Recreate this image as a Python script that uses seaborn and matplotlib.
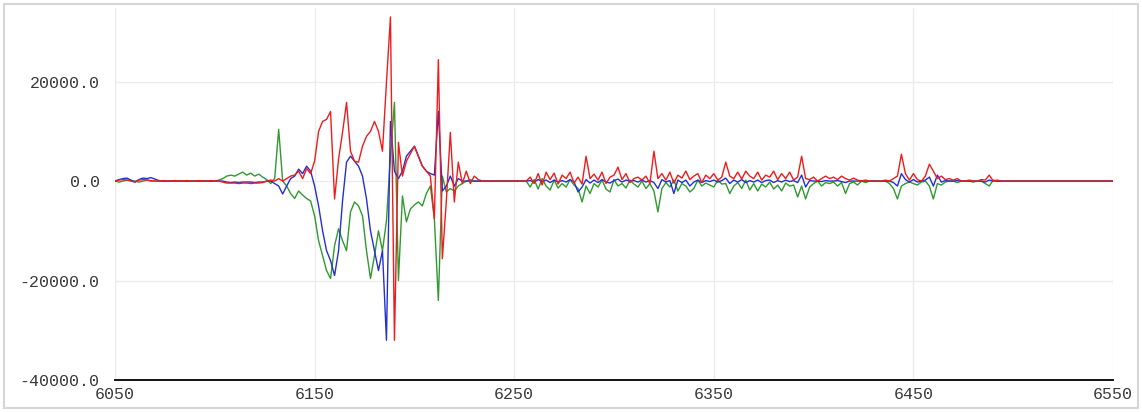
import numpy as np
import pandas as pd
import matplotlib
matplotlib.use("Agg")
import matplotlib.pyplot as plt
from matplotlib.patches import Rectangle
import seaborn as sns

# sample positions (every 2 samples from 6050 to 6550)
x_pos = np.arange(6050, 6551, 2)

# channel readings, in thousands
red_k = [
    0, 0.2, 0.3, 0.2, 0, -0.2, 0.2, 0.3, 0.2, 0.1,
    0, 0, 0.1, 0, 0, 0.1, 0, 0, 0.1, 0,
    0, 0.1, 0, 0, 0.1, 0, 0, -0.2, -0.4, -0.4,
    -0.4, -0.5, -0.4, -0.4, -0.5, -0.4, -0.4, -0.3, 0, 0.2,
    0, 0.5, 0, 0.5, 1, 1.2, 2, 0.5, 2.5, 1.5,
    4, 10, 12, 12.4, 14, -3.6, 4.4, 9.8, 15.8, 6,
    4, 3.8, 7, 9, 10, 12, 10, 6, 19.8, 33,
    -32, 7.8, 1, 4, 5.5, 7, 5, 3, 2, 1,
    -7.6, 24.4, -15.6, -4, 9.8, -4.2, 3.8, -0.5, 2, -0.5,
    1, 0.3, 0, 0, 0, 0, 0, 0, 0, 0,
    0, 0, 0, 0, 0.8, -0.5, 1.5, -0.8, 1.8, 0.3,
    1.6, -0.6, 1.2, 0.5, 1.8, -0.4, 0.8, -0.6, 5, 0.5,
    1.4, 0.2, 1.8, -0.5, 0.8, 1.2, 2.8, 0.3, 1.5, -0.3,
    0.5, 0.8, 0.2, 1, -0.5, 6, 0.5, 1.5, 0.2, 1.8,
    -0.4, 1.2, 0.6, 2, 0.3, 1, 1.5, -0.3, 1.2, 0.5,
    1.5, 0.2, 0.8, 3.8, 1, 0.5, 1.8, 0.4, 2, 1,
    0.5, 1.8, 0.2, 1.2, 0.8, 2, 0.3, 1.5, 0.5, 1.8,
    0.2, 0.8, 5, 0.5, 0.3, 0.8, 0, 0.5, 1, 0.5,
    0.8, 0.3, 1, 0.5, 0.2, 0.6, 0.2, 0, 0.2, 0,
    0, 0, 0, 0.2, 0, 0.5, 1, 5.4, 1.5, 0.2,
    1.5, 0.3, 0, 1, 3.4, 2, 0.5, 1, 0.3, 0.5,
    0.2, 0.5, 0, 0, 0.2, 0, 0, 0.3, 0.2, 1.2,
    0, 0.2, 0, 0, 0, 0, 0, 0, 0, 0,
    0, 0, 0, 0, 0, 0, 0, 0, 0, 0,
    0, 0, 0, 0, 0, 0, 0, 0, 0, 0, 0,
]

green_k = [
    0, -0.2, 0, 0.2, 0.1, 0, -0.2, 0, 0.2, 0,
    0, 0, 0, 0, 0, 0.1, 0, 0, 0, 0,
    0, 0, 0, 0, 0, 0, 0.2, 0.5, 1, 1.2,
    1.0, 1.4, 1.8, 1.2, 1.6, 1.0, 1.4, 0.8, 0.3, -0.5,
    0.5, 10.4, 0, -1, -2.5, -3.5, -2, -2.8, -3.5, -4,
    -7, -12, -15, -18, -19.6, -13, -9.6, -12, -14, -6.2,
    -4.2, -5, -7, -14, -19.6, -15, -10, -14, -8, 5,
    15.8, -20, -3, -8.2, -5.6, -4.8, -4.2, -5, -2.5, -1,
    -7.6, -24, 1, -2.2, -1.5, -2, -1, -0.5, 0, 0.3,
    0, 0, 0, 0, 0, 0, 0, 0, 0, 0,
    0, 0, 0, 0, -1.2, 0.3, -1.6, 0.5, -1, -1.8,
    0.2, -1.4, -0.5, -1.2, 0.3, -0.8, -1.5, -4.2, -1, -2.5,
    -0.5, -1.2, 0.2, -1.6, -2.2, 0.3, -1, -0.5, -1.4, 0.2,
    -0.6, -1.2, 0, -1.5, -0.5, -2, -6.2, -1.5, -0.3, -1.2,
    0.2, -2, -0.5, -1, -2.2, -1.5, 0.2, -1, -0.4, -0.8,
    -1.2, 0.2, -0.6, -0.5, -2.5, -1, -0.3, -1.5, 0.2, -1.8,
    -0.5, -2, -0.6, -1.2, -0.2, -1.6, -0.8, -2, -0.4, -1,
    -0.8, -3.2, -1, -3.6, -1.2, -0.5, 0, -1, -0.3, -0.5,
    -0.2, -1, -0.3, -2.5, -0.5, -0.2, -0.8, 0, -0.3, 0,
    0, 0, 0, 0, -0.5, -1.5, -3.6, -1, -0.5, -0.2,
    -0.5, -0.8, -0.2, 0, -1, -3.6, -0.5, -0.8, -0.2, 0,
    0, -0.3, 0, 0, 0, -0.2, 0, 0, -0.5, -1,
    0.2, 0, 0, 0, 0, 0, 0, 0, 0, 0,
    0, 0, 0, 0, 0, 0, 0, 0, 0, 0,
    0, 0, 0, 0, 0, 0, 0, 0, 0, 0, 0,
]

blue_k = [
    0, 0.3, 0.5, 0.6, 0.2, -0.2, 0.3, 0.6, 0.5, 0.7,
    0.4, 0.1, 0, 0, 0, 0, 0, 0, 0, 0,
    0, 0, 0, 0, 0, 0, 0, 0, -0.2, -0.3,
    -0.2, -0.3, -0.2, -0.2, -0.2, -0.3, -0.2, -0.2, 0, 0,
    -0.5, -1, -2.6, -1, 0.5, 1, 2.4, 1.5, 3, 2,
    -1, -5, -10, -14, -16, -19, -14, -4, 3.8, 5,
    4, 3, 1, -3.6, -10, -14, -18, -14, -32, 12,
    2, 0.5, 2, 5, 6, 7, 5, 3, 2, 1.5,
    1.2, 14, -2, -1, 1, -1, 0.5, 0, 0, 0,
    0, 0, 0, 0, 0, 0, 0, 0, 0, 0,
    0, 0, 0, 0, 0.1, -0.2, 0.3, -0.1, 0.2, -0.3,
    0.2, -0.2, 0.1, -0.2, 0.3, -0.2, -2.2, -1.2, 0.3, -0.4,
    0.2, -0.3, 0.3, -0.2, -0.4, 0.1, 0.4, -0.2, 0.2, 0,
    0.1, -0.2, 0.2, -0.2, 0.1, -0.3, -1.5, 0.3, -0.2, 0.1,
    -2.5, 0.2, -0.3, 0.2, -1, -0.2, 0.2, -0.3, 0.1, -0.1,
    0.2, -0.2, 0.1, 0.6, -0.5, 0.2, -0.2, 0.3, -0.3, 0.1,
    -0.2, 0.2, -0.3, 0.1, 0.2, -0.3, 0.1, -0.2, 0.2, -0.1,
    0.1, -0.3, 1.2, -1.2, 0.1, 0, 0, -0.1, 0.1, 0,
    0, 0.1, -0.1, -0.3, 0, 0, 0, 0, 0, 0,
    0, 0, 0, 0, 0, -0.3, -1, 1.5, 0.3, -0.2,
    0.3, -0.2, 0, 0.2, 0.8, -1, 1.2, -0.2, 0.1, 0,
    0, 0.1, 0, 0, 0, 0, 0, 0, -0.2, 0.2,
    0, 0, 0, 0, 0, 0, 0, 0, 0, 0,
    0, 0, 0, 0, 0, 0, 0, 0, 0, 0,
    0, 0, 0, 0, 0, 0, 0, 0, 0, 0, 0,
]

x_ticks = [6050, 6150, 6250, 6350, 6450, 6550]
x_tick_labels = ["6050", "6150", "6250", "6350", "6450", "6550"]
y_ticks = [-40000, -20000, 0, 20000]
y_tick_labels = ["-40000.0", "-20000.0", "0.0", "20000.0"]

channels = ["green", "blue", "red"]
palette = {"green": "#2f9a2f", "blue": "#2430d0", "red": "#ee1c1c"}

frames = []
for name, vals in (("green", green_k), ("blue", blue_k), ("red", red_k)):
    frames.append(pd.DataFrame({"x": x_pos, "value": np.asarray(vals) * 1000.0, "channel": name}))
df = pd.concat(frames, ignore_index=True)

sns.set_style("white")
plt.rcParams["font.family"] = ["Liberation Mono", "DejaVu Sans Mono"]

fig = plt.figure(figsize=(11.42, 4.12), dpi=100)
ax = fig.add_axes([115 / 1142, 32 / 412, 998 / 1142, 372 / 412])

sns.lineplot(data=df, x="x", y="value", hue="channel", hue_order=channels,
             palette=palette, estimator=None, sort=False, linewidth=1.0,
             legend=False, ax=ax)

ax.set_xlim(6050, 6550)
ax.set_ylim(-40000, 34800)
ax.set_xticks(x_ticks)
ax.set_xticklabels(x_tick_labels)
ax.set_yticks(y_ticks)
ax.set_yticklabels(y_tick_labels)
ax.set_xlabel("")
ax.set_ylabel("")

ax.grid(True, color="#ebebeb", linewidth=1.0)
ax.set_axisbelow(True)

for side in ("left", "right", "top"):
    ax.spines[side].set_visible(False)
ax.spines["bottom"].set_color("#111111")
ax.spines["bottom"].set_linewidth(1.4)

ax.tick_params(axis="y", direction="out", length=7, width=1.3, color="#111111",
               pad=4, labelsize=12, labelcolor="#3a3a3a")
ax.tick_params(axis="x", direction="inout", length=8, width=1.3, color="#111111",
               pad=1, labelsize=12, labelcolor="#3a3a3a")

# thin frame around the whole figure
fig.patches.append(Rectangle((4 / 1142, 4 / 412), 1134 / 1142, 404 / 412,
                             transform=fig.transFigure, fill=False,
                             edgecolor="#d6d6d6", linewidth=1.5))

fig.savefig("out.png", dpi=100)
